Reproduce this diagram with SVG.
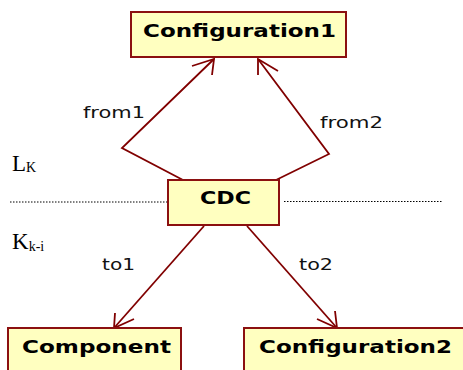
<svg xmlns="http://www.w3.org/2000/svg" width="463" height="370" viewBox="0 0 463 370">
<style>
.box{fill:#FFFFC0;stroke:#8B1010;stroke-width:2}
.lbl{font-family:"DejaVu Sans",Verdana,sans-serif;font-weight:bold;font-size:17px;fill:#000}
.cl{font-family:"DejaVu Sans",Verdana,sans-serif;font-size:16px;fill:#111}
.ln{fill:none;stroke:#800000;stroke-width:1.8}
.lay{font-family:"Liberation Serif","Times New Roman",serif;fill:#000}
.dot{stroke:#000;stroke-width:1;stroke-dasharray:1.5 1.5}
</style>
<rect width="463" height="370" fill="#fff"/>
<g id="layers">
<line class="dot" x1="10" y1="202" x2="168" y2="202"/>
<line class="dot" x1="284" y1="201.5" x2="442" y2="201.5"/>
<text class="lay" x="12" y="171" font-size="23">L<tspan font-size="14" dy="1">K</tspan></text>
<text class="lay" x="12" y="249" font-size="23">K<tspan font-size="14" dy="2">k-i</tspan></text>
</g>
<g id="connectors">
<polyline class="ln" points="183,180 122,148 214,59"/>
<polyline class="ln" points="192,66 214,59 212,75"/>
<polyline class="ln" points="276,180 329,154 258,59"/>
<polyline class="ln" points="258,75 258,59 278,71"/>
<line class="ln" x1="204" y1="226" x2="114" y2="328"/>
<polyline class="ln" points="115,313 114,328 134,319"/>
<line class="ln" x1="247" y1="226" x2="337" y2="328"/>
<polyline class="ln" points="317,319 337,328 335,311"/>
<text class="cl" x="83" y="118" textLength="62" lengthAdjust="spacingAndGlyphs">from1</text>
<text class="cl" x="320" y="128" textLength="63" lengthAdjust="spacingAndGlyphs">from2</text>
<text class="cl" x="102" y="270" textLength="33" lengthAdjust="spacingAndGlyphs">to1</text>
<text class="cl" x="299" y="270" textLength="34" lengthAdjust="spacingAndGlyphs">to2</text>
</g>
<g id="Configuration1">
<rect class="box" x="131" y="12" width="215" height="45"/>
<text class="lbl" x="143" y="37" textLength="193" lengthAdjust="spacingAndGlyphs">Configuration1</text>
</g>
<g id="CDC">
<rect class="box" x="168" y="180" width="111" height="45"/>
<text class="lbl" x="200" y="204" textLength="51" lengthAdjust="spacingAndGlyphs">CDC</text>
</g>
<g id="Component">
<rect class="box" x="8" y="328" width="173" height="50"/>
<text class="lbl" x="22" y="353" textLength="149" lengthAdjust="spacingAndGlyphs">Component</text>
</g>
<g id="Configuration2">
<rect class="box" x="244" y="328" width="220" height="50"/>
<text class="lbl" x="259" y="353" textLength="193" lengthAdjust="spacingAndGlyphs">Configuration2</text>
</g>
</svg>
